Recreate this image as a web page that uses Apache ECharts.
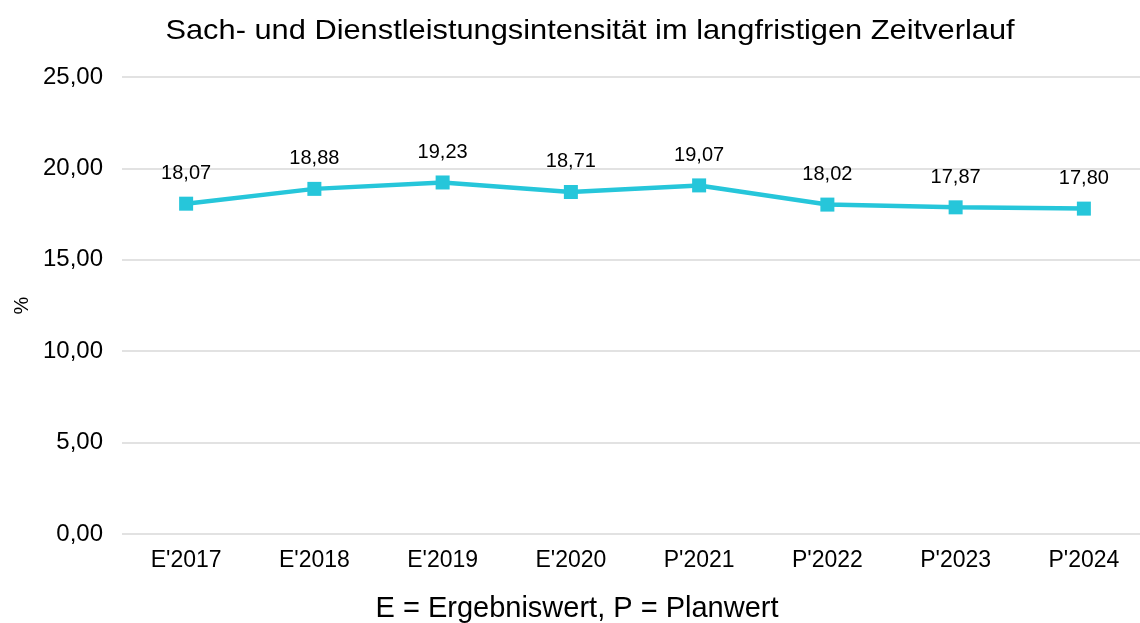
<!DOCTYPE html>
<html>
<head>
<meta charset="utf-8">
<script src="https://cdn.jsdelivr.net/npm/echarts@6/dist/echarts.min.js"></script>
<style>html,body{margin:0;padding:0;background:#fff;overflow:hidden;}#c{width:1140px;height:623px;}</style>
</head>
<body>
<div id="c"></div>
<script>
const categories = ["E'2017", "E'2018", "E'2019", "E'2020", "P'2021", "P'2022", "P'2023", "P'2024"];
const values = [18.07, 18.88, 19.23, 18.71, 19.07, 18.02, 17.87, 17.80];
const titleText = "Sach- und Dienstleistungsintensität im langfristigen Zeitverlauf";
const xAxisTitle = "E = Ergebniswert, P = Planwert";
const yAxisTitle = "%";

const FONT = 'Liberation Sans, Arial, sans-serif';
const fmt = v => v.toFixed(2).replace('.', ',');
const chart = echarts.init(document.getElementById('c'));
chart.setOption({
  animation: false,
  backgroundColor: '#fff',
  textStyle: { fontFamily: FONT },
  graphic: [{
    type: 'text', x: 590, y: 31, scaleX: 1.1, scaleY: 1,
    style: { text: titleText, font: '28px ' + FONT, fill: '#000', textAlign: 'center', textVerticalAlign: 'middle' }
  }],
  grid: { left: 122, right: -8, top: 77, bottom: 89, containLabel: false, outerBoundsMode: 'none' },
  xAxis: {
    type: 'category', data: categories, boundaryGap: true,
    name: xAxisTitle, nameLocation: 'middle', nameGap: 60,
    nameTextStyle: { fontSize: 29, color: '#000', padding: [0, 116, 0, 0] },
    axisLine: { show: false }, axisTick: { show: false },
    axisLabel: { fontSize: 23, color: '#000', margin: 15 }
  },
  yAxis: {
    type: 'value', min: 0, max: 25, interval: 5,
    name: yAxisTitle, nameLocation: 'middle', nameGap: 89, nameRotate: 90,
    nameTextStyle: { fontSize: 20, color: '#000' },
    axisLabel: { fontSize: 24, color: '#000', margin: 19, formatter: v => fmt(v) },
    splitLine: { lineStyle: { color: '#d9d9d9', width: 1.5 } },
    axisLine: { show: false }, axisTick: { show: false }
  },
  series: [{
    type: 'line', data: values,
    symbol: 'rect', symbolSize: 14,
    lineStyle: { color: '#26C6DA', width: 4.5 },
    itemStyle: { color: '#26C6DA' },
    label: { show: true, position: 'top', distance: 13, fontSize: 20, color: '#000', formatter: p => fmt(p.value) }
  }]
});
</script>
</body>
</html>
